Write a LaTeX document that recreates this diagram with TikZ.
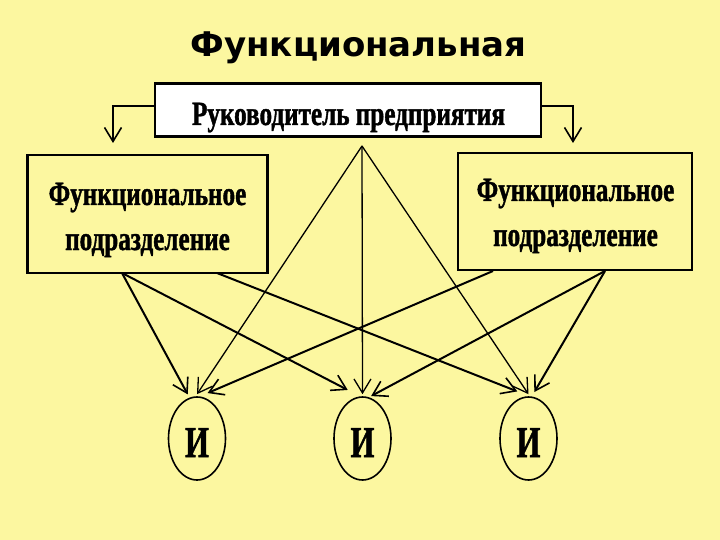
\documentclass[tikz,border=0pt]{standalone}
\usepackage{fontspec}
\setmainfont{Liberation Serif}
\newfontfamily\titlefont{DejaVu Sans}
\newfontfamily\condfont[FakeStretch=0.74,FakeBold=1.2]{Liberation Serif}
\newfontfamily\ifont[FakeStretch=0.70,FakeBold=1.2]{Liberation Serif}
\usetikzlibrary{arrows.meta,shapes.geometric}
\definecolor{bg}{RGB}{252,247,160}
\tikzset{
  boxframe/.style={draw=black,line width=2.2pt},
  txt/.style={anchor=base,inner sep=0pt,font=\condfont\bfseries\fontsize{34}{34}\selectfont},
  inode/.style={draw=black,line width=1.6pt,ellipse,fill=bg,minimum width=57pt,minimum height=83pt,inner sep=0pt},
  thick arr/.style={line width=2pt,-{Straight Barb[length=14pt,width=17pt,line width=1.6pt]}},
  thin arr/.style={line width=1.3pt,-{Straight Barb[length=14pt,width=17pt,line width=1.3pt]}},
}
\begin{document}
\begin{tikzpicture}[x=1pt,y=-1pt]
\fill[bg] (0,0) rectangle (720,540);
\useasboundingbox (0,0) rectangle (720,540);
% title
\node[anchor=base,inner sep=0pt,font=\titlefont\bfseries\fontsize{34}{34}\selectfont] (title) at (358.5,57) {Функциональная};
% top box
\node[boxframe,fill=white,minimum width=386pt,minimum height=53pt,inner sep=0pt] (top) at (348,110) {};
\node[txt] (toptxt) at (348.5,125) {Руководитель предприятия};
% left functional box
\node[boxframe,fill=bg,minimum width=240pt,minimum height=118pt,inner sep=0pt] (fl) at (147.5,214) {};
\node[txt] (fl1) at (147.5,205) {Функциональное};
\node[txt] (fl2) at (147.5,250) {подразделение};
% right functional box
\node[boxframe,fill=bg,minimum width=234pt,minimum height=117pt,inner sep=0pt] (fr) at (575,211.5) {};
\node[txt] (fr1) at (575.5,201) {Функциональное};
\node[txt] (fr2) at (575.5,246) {подразделение};
% ellipses
\node[inode] (e1) at (197,438.5) {};
\node[inode] (e2) at (362.5,438.5) {};
\node[inode] (e3) at (528.5,438.5) {};
\node[anchor=base,inner sep=0pt,font=\ifont\bfseries\fontsize{44}{44}\selectfont] (i1) at (197,457) {И};
\node[anchor=base,inner sep=0pt,font=\ifont\bfseries\fontsize{44}{44}\selectfont] (i2) at (362.5,457) {И};
\node[anchor=base,inner sep=0pt,font=\ifont\bfseries\fontsize{44}{44}\selectfont] (i3) at (528.5,457) {И};
% side connectors from top box
\coordinate (lc) at (113,106);
\coordinate (rc) at (573,106);
\coordinate (ld) at (113,143);
\coordinate (rd) at (573,143);
\draw[thick arr] (top.west |- lc) -- (lc) -- (ld);
\draw[thick arr] (top.east |- rc) -- (rc) -- (rd);
% apex lines
\coordinate (apex) at (362,146);
\draw[thin arr] (apex) -- ([yshift=2pt]e1.90);
\draw[thin arr] (apex) -- ([yshift=2pt]e2.90);
\draw[thin arr] (apex) -- ([yshift=2pt]e3.90);
% from left box
\coordinate (fla) at (122,273);
\coordinate (flb) at (217,273);
\draw[thick arr] (fla) -- ([yshift=4pt]e1.103);
\draw[thick arr] (fla) -- ([yshift=12pt]e2.112);
\draw[thick arr] (flb) -- ([yshift=8pt]e3.106);
% from right box
\coordinate (fra) at (493,271);
\coordinate (frb) at (605,271);
\draw[thick arr] (fra) -- ([yshift=6pt]e1.75);
\draw[thick arr] (frb) -- ([yshift=2pt]e2.78);
\draw[thick arr] (frb) -- ([yshift=5pt]e3.82);
\end{tikzpicture}
\end{document}
